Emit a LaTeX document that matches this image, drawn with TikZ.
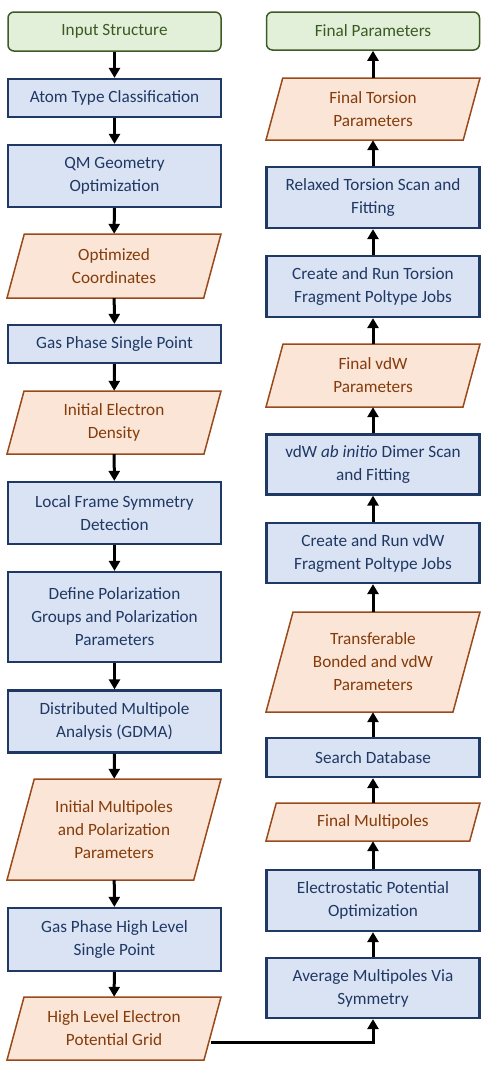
\documentclass[tikz,border=0pt]{standalone}
\usepackage{fontspec}
\setmainfont{Carlito}
\usetikzlibrary{arrows.meta}
\definecolor{bfill}{HTML}{DAE3F3}
\definecolor{bline}{HTML}{203864}
\definecolor{btext}{HTML}{203864}
\definecolor{ofill}{HTML}{FBE5D6}
\definecolor{oline}{HTML}{9A4A1A}
\definecolor{otext}{HTML}{843C0C}
\definecolor{gfill}{HTML}{E2F0D9}
\definecolor{gline}{HTML}{3D5A27}
\definecolor{gtext}{HTML}{3A5A22}
\tikzset{
  base/.style={align=center, font=\fontsize{17.2}{23}\selectfont, inner sep=0pt},
  procbox/.style={base, draw=bline, fill=bfill, line width=2.2pt, text=btext, minimum width=213pt},
  termbox/.style={base, draw=gline, fill=gfill, line width=1.5pt, rounded corners=6pt, text=gtext, minimum width=213pt},
  paratext/.style={base, text=otext},
  parashape/.style={draw=oline, fill=ofill, line width=1.5pt, line join=miter},
  arr/.style={line width=3pt, -{Triangle[length=10pt,width=11pt]}},
}
\newcommand\paranode[6]{%
  \path[parashape] ({#2-#4/2+0.27*#5},{#3-#5/2}) -- ({#2+#4/2},{#3-#5/2})
    -- ({#2+#4/2-0.27*#5},{#3+#5/2}) -- ({#2-#4/2},{#3+#5/2}) -- cycle;
  \node[paratext, minimum width=#4pt, minimum height=#5pt] (#1) at (#2,#3) {#6};}
\begin{document}
\begin{tikzpicture}[x=1pt,y=-1pt]
\useasboundingbox (0,0) rectangle (498,1072);
% left column
\node[termbox, minimum height=39pt] (in) at (114.5,31.5) {Input Structure};
\node[procbox, minimum height=38pt] (atom) at (114.5,98) {Atom Type Classification};
\node[procbox, minimum height=62pt] (qm) at (114.5,176) {QM Geometry\\Optimization};
\paranode{optc}{114}{266}{214}{64}{Optimized\\Coordinates}
\node[procbox, minimum height=38pt] (gas1) at (114.5,344) {Gas Phase Single Point};
\paranode{ied}{114}{422.5}{214}{63}{Initial Electron\\Density}
\node[procbox, minimum height=62pt] (lfs) at (114.5,513) {Local Frame Symmetry\\Detection};
\node[procbox, minimum height=90pt] (dpg) at (114.5,617) {Define Polarization\\Groups and Polarization\\Parameters};
\node[procbox, minimum height=62pt] (dma) at (114.5,721.5) {Distributed Multipole\\Analysis (GDMA)};
\paranode{imp}{114}{829.5}{214}{101}{Initial Multipoles\\and Polarization\\Parameters}
\node[procbox, minimum height=63pt] (ghl) at (114.5,939.5) {Gas Phase High Level\\Single Point};
\paranode{hle}{114}{1028.5}{214}{63}{High Level Electron\\Potential Grid}
% right column
\node[termbox, minimum height=38pt] (fin) at (373,31) {Final Parameters};
\paranode{ftp}{373}{109}{214}{62}{Final Torsion\\Parameters}
\node[procbox, minimum height=61pt] (rts) at (373,197.5) {Relaxed Torsion Scan and\\Fitting};
\node[procbox, minimum height=61pt] (ctr) at (373,286.5) {Create and Run Torsion\\Fragment Poltype Jobs};
\paranode{fvdw}{373}{375.5}{214}{63}{Final vdW\\Parameters}
\node[procbox, minimum height=60pt] (vab) at (373,464.5) {vdW \textit{ab initio} Dimer Scan\\and Fitting};
\node[procbox, minimum height=60pt] (cvdw) at (373,553) {Create and Run vdW\\Fragment Poltype Jobs};
\paranode{tbv}{373}{662}{214}{100}{Transferable\\Bonded and vdW\\Parameters}
\node[procbox, minimum height=39pt] (sdb) at (373,757.5) {Search Database};
\paranode{fmp}{373}{822}{214}{38}{Final Multipoles}
\node[procbox, minimum height=61pt] (esp) at (373,900.5) {Electrostatic Potential\\Optimization};
\node[procbox, minimum height=60pt] (avg) at (373,988) {Average Multipoles Via\\Symmetry};
% connectors left
\draw[arr] (in) -- (atom);
\draw[arr] (atom) -- (qm);
\draw[arr] (qm) -- (optc);
\draw[arr] (optc) -- (gas1);
\draw[arr] (gas1) -- (ied);
\draw[arr] (ied) -- (lfs);
\draw[arr] (lfs) -- (dpg);
\draw[arr] (dpg) -- (dma);
\draw[arr] (dma) -- (imp);
\draw[arr] (imp) -- (ghl);
\draw[arr] (ghl) -- (hle);
% connectors right
\draw[arr] ([xshift=-10pt,yshift=-13.5pt]hle.east) -| (avg.south);
\draw[arr] (avg) -- (esp);
\draw[arr] (esp) -- (fmp);
\draw[arr] (fmp) -- (sdb);
\draw[arr] (sdb) -- (tbv);
\draw[arr] (tbv) -- (cvdw);
\draw[arr] (cvdw) -- (vab);
\draw[arr] (vab) -- (fvdw);
\draw[arr] (fvdw) -- (ctr);
\draw[arr] (ctr) -- (rts);
\draw[arr] (rts) -- (ftp);
\draw[arr] (ftp) -- (fin);
\end{tikzpicture}
\end{document}
